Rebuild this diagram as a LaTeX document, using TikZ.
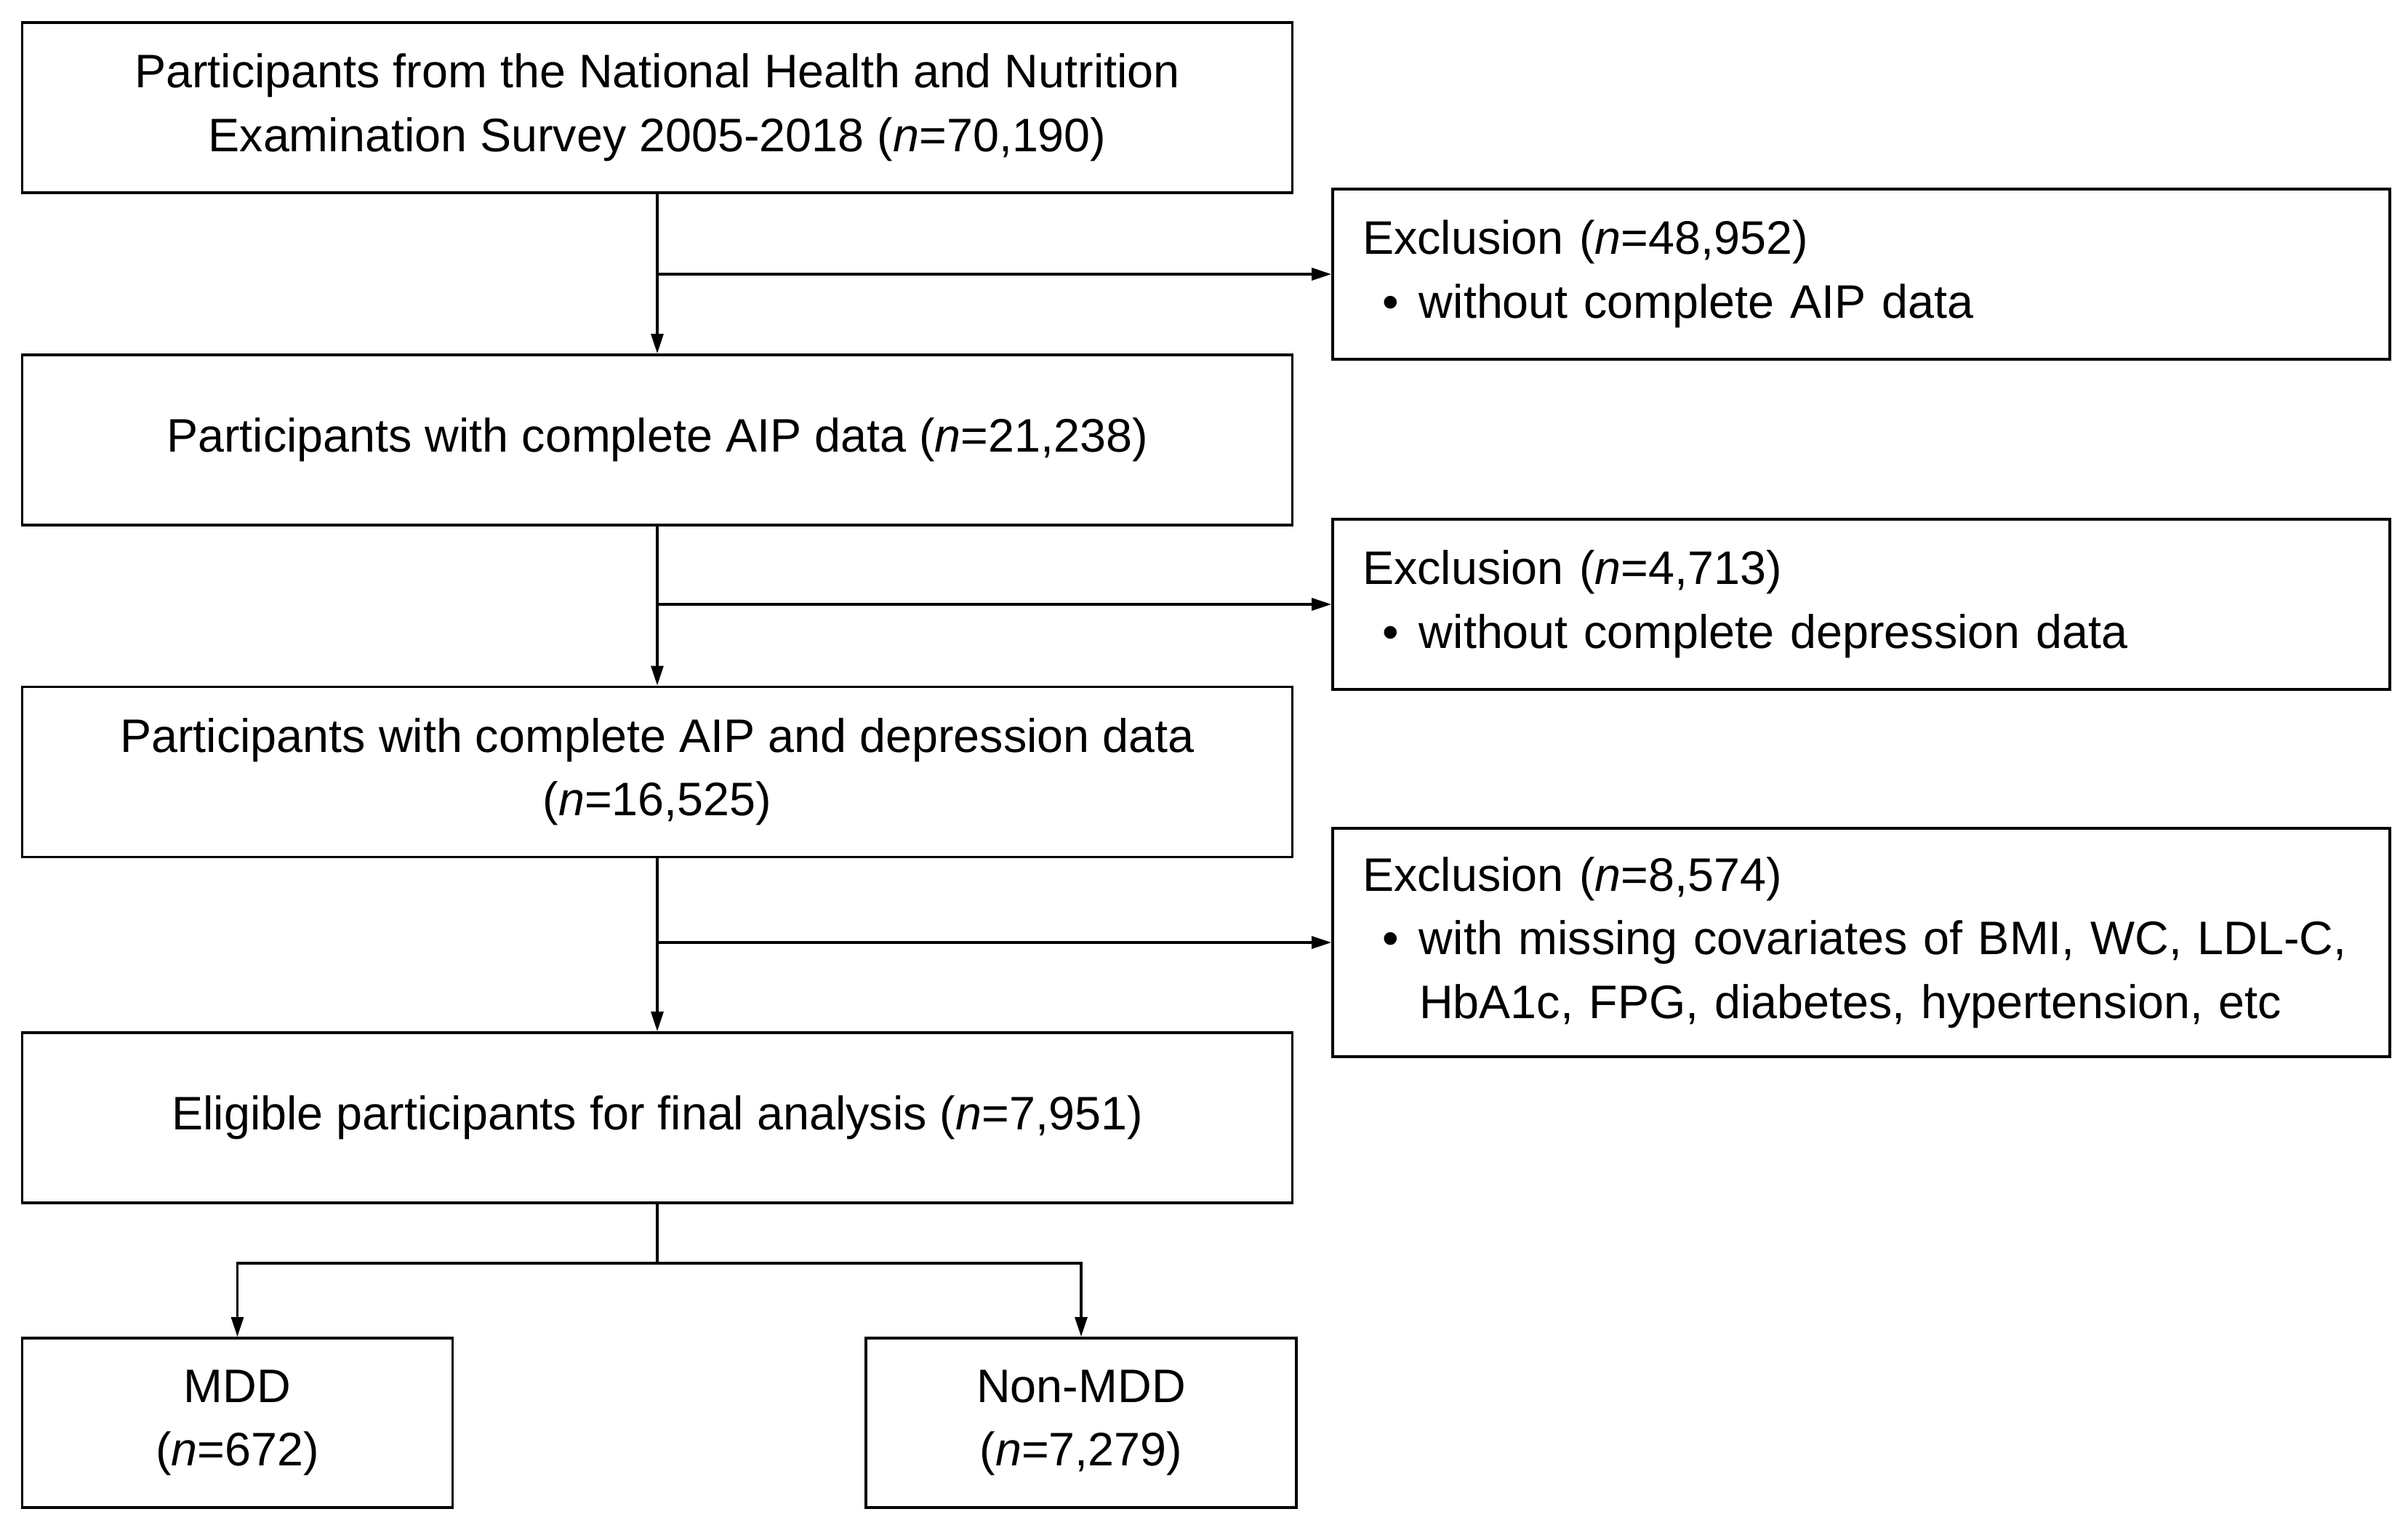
\documentclass[tikz,border=0pt]{standalone}
\usepackage{fontspec}
\setmainfont{Liberation Sans}
\usetikzlibrary{arrows.meta}

\begin{document}
\begin{tikzpicture}[>={Triangle[length=0.27cm,width=0.17cm]},
    mainbox/.style={draw,line width=1.1pt,minimum width=17.47cm,minimum height=2.34cm,align=center,font=\fontsize{18.4}{24.9}\selectfont},
    exclbox/.style={draw,line width=1.1pt,text width=13.72cm,inner xsep=0.41cm,minimum height=2.34cm,align=left,font=\fontsize{18.4}{24.9}\selectfont},
    groupbox/.style={draw,line width=1.1pt,minimum width=5.92cm,minimum height=2.33cm,align=center,font=\fontsize{18.4}{24.9}\selectfont},
    flow/.style={line width=0.9pt}]
      \useasboundingbox (0,0) rectangle (33.12,20.96);

      % Main flow boxes
      \node[mainbox] (survey) at (9.04,19.48) {Participants from the National Health and Nutrition\\Examination Survey 2005-2018 (\textit{n}=70,190)};
      \node[mainbox] (aip) at (9.04,14.91) {Participants with complete AIP data (\textit{n}=21,238)};
      \node[mainbox] (aipdep) at (9.04,10.345) {Participants with complete AIP and depression data\\(\textit{n}=16,525)};
      \node[mainbox] (eligible) at (9.04,5.59) {Eligible participants for final analysis (\textit{n}=7,951)};

      % Groups
      \node[groupbox] (mdd) at (3.265,1.395) {MDD\\(\textit{n}=672)};
      \node[groupbox] (nonmdd) at (14.87,1.395) {Non-MDD\\(\textit{n}=7,279)};

      % Exclusion boxes
      \node[exclbox] (excla) at (25.60,17.19) {Exclusion (\textit{n}=48,952)\\
        \makebox[0.78cm][l]{\hspace{0.27cm}\textbullet}without complete AIP data};
      \node[exclbox] (exclb) at (25.60,12.65) {Exclusion (\textit{n}=4,713)\\
        \makebox[0.78cm][l]{\hspace{0.27cm}\textbullet}without complete depression data};
      \node[exclbox,minimum height=3.14cm] (exclc) at (25.60,8.00) {Exclusion (\textit{n}=8,574)\\
        \makebox[0.78cm][l]{\hspace{0.27cm}\textbullet}with missing covariates of BMI, WC, LDL-C,\\
        \hspace*{0.78cm}HbA1c, FPG, diabetes, hypertension, etc};

      % Arrows down
      \draw[flow,->] (survey) -- (aip);
      \draw[flow,->] (aip) -- (aipdep);
      \draw[flow,->] (aipdep) -- (eligible);

      % Arrows to exclusions
      \draw[flow,->] (survey.south |- excla.west) -- (excla.west);
      \draw[flow,->] (aip.south |- exclb.west) -- (exclb.west);
      \draw[flow,->] (aipdep.south |- exclc.west) -- (exclc.west);

      % Split into groups
      \coordinate (split) at (9.04,3.59);
      \draw[flow] (eligible) -- (split);
      \draw[flow,->] (split) -| (mdd);
      \draw[flow,->] (split) -| (nonmdd);
\end{tikzpicture}
\end{document}
